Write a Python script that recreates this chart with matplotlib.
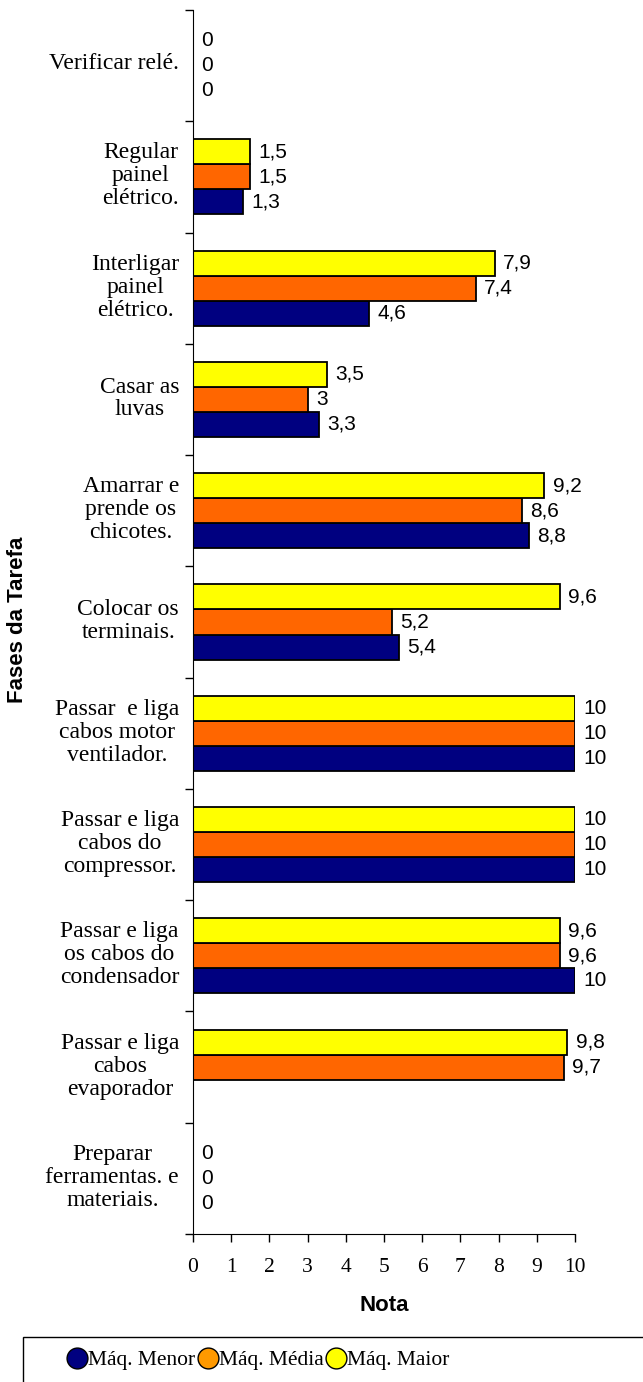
import matplotlib.pyplot as plt
import numpy as np
from matplotlib.patches import Rectangle
from matplotlib.lines import Line2D

# categorias de baixo para cima
fases = [
    "Preparar\nferramentas. e\nmateriais.",
    "Passar e liga\ncabos\nevaporador",
    "Passar e liga\nos cabos do\ncondensador",
    "Passar e liga\ncabos do\ncompressor.",
    "Passar  e liga\ncabos motor\nventilador.",
    "Colocar os\nterminais.",
    "Amarrar e\nprende os\nchicotes.",
    "Casar as\nluvas",
    "Interligar\npainel\nelétrico.",
    "Regular\npainel\nelétrico.",
    "Verificar relé.",
]
maq_menor = [0, np.nan, 10, 10, 10, 5.4, 8.8, 3.3, 4.6, 1.3, 0]
maq_media = [0, 9.7, 9.6, 10, 10, 5.2, 8.6, 3, 7.4, 1.5, 0]
maq_maior = [0, 9.8, 9.6, 10, 10, 9.6, 9.2, 3.5, 7.9, 1.5, 0]
series = ["Máq. Menor", "Máq. Média", "Máq. Maior"]

cores_barras = ["#000080", "#FF6600", "#FFFF00"]
cores_legenda = ["#000080", "#FF9900", "#FFFF00"]

fig = plt.figure(figsize=(6.43, 13.82), dpi=100)
ax = fig.add_axes([193 / 643, 1 - 1234 / 1382, (575 - 193) / 643, (1234 - 10) / 1382])

y = np.arange(len(fases))
h = 0.225
dados = [maq_menor, maq_media, maq_maior]
for k, (vals, cor) in enumerate(zip(dados, cores_barras)):
    pos = y + (k - 1) * h
    vals = np.array(vals, dtype=float)
    ax.barh(pos, vals, height=h, color=cor, edgecolor="black", linewidth=1.3)
    for p, v in zip(pos, vals):
        if np.isnan(v):
            continue
        txt = "{:g}".format(v).replace(".", ",")
        ax.annotate(txt, (v, p), xytext=(6, 0), textcoords="offset points",
                    va="center", ha="left", fontsize=15,
                    family="Liberation Sans")

ax.set_xlim(0, 10)
ax.set_ylim(-0.5, len(fases) - 0.5)

ax.set_xticks(np.arange(0, 11, 1))
ax.set_xticklabels([str(i) for i in range(11)], family="Liberation Serif", fontsize=15.5)
ax.tick_params(axis="x", length=6, width=1, pad=11)

# ticks nas fronteiras, rotulos no centro (um pouco acima)
ax.set_yticks(np.arange(-0.5, len(fases), 1))
ax.set_yticklabels([])
ax.tick_params(axis="y", which="major", length=6, width=1)
ax.set_yticks(y + 0.04, minor=True)
ax.set_yticklabels(fases, minor=True, family="Liberation Serif", fontsize=17)
ax.tick_params(axis="y", which="minor", length=0, pad=10)
for lbl in ax.get_yticklabels(minor=True):
    lbl.set_multialignment("center")
    lbl.set_linespacing(1.12)

ax.spines["right"].set_visible(False)
ax.spines["top"].set_visible(False)

ax.set_xlabel("Nota", family="Liberation Sans", fontweight="bold", fontsize=16, labelpad=13)
fig.text(18 / 643, 1 - 620 / 1382, "Fases da Tarefa", rotation=90, ha="center", va="center",
         family="Liberation Sans", fontweight="bold", fontsize=16)

# legenda
fig.patches.append(Rectangle((23 / 643, -0.05), 1.0, (1382 - 1337) / 1382 + 0.05,
                             transform=fig.transFigure, fill=False, edgecolor="black", linewidth=1))
handles = [Line2D([], [], linestyle="none", marker="o", markersize=15,
                  markerfacecolor=c, markeredgecolor="black", markeredgewidth=1)
           for c in cores_legenda]
fig.legend(handles, series, loc="center", bbox_to_anchor=(258 / 643, 1 - 1360 / 1382), ncol=3,
           frameon=False, handletextpad=0.0, columnspacing=0.1, handlelength=1.0,
           prop={"family": "Liberation Serif", "size": 15.5})

fig.savefig("out.png", dpi=100)
